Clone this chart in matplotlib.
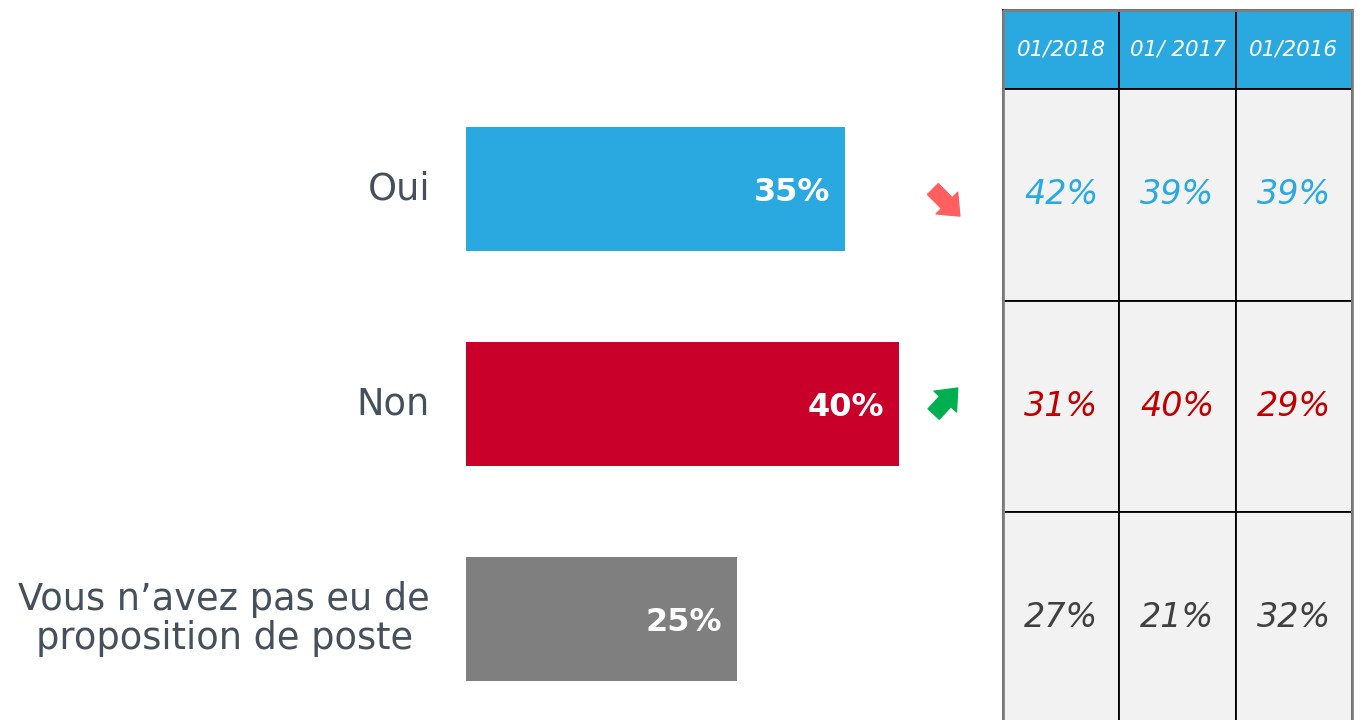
import matplotlib.pyplot as plt
from matplotlib.patches import Rectangle

# data
categories = ["Oui", "Non", "Vous n\u2019avez pas eu de\nproposition de poste"]
values = [35, 40, 25]
bar_colors = ["#29a9e0", "#c8002a", "#7f7f7f"]
trends = ["down", "up", None]
years = ["01/2018", "01/ 2017", "01/2016"]
history = [[42, 39, 39],
           [31, 40, 29],
           [27, 21, 32]]
text_colors = ["#29a9e0", "#c00000", "#404040"]

W, H = 1361, 720
fig = plt.figure(figsize=(W / 100, H / 100), dpi=100)

# --- bars -------------------------------------------------------------
ax = fig.add_axes([466 / W, 0, (1003 - 466) / W, 1])
ax.barh(range(len(values)), values, height=0.577, color=bar_colors)
ax.set_xlim(0, (1003 - 466) / 10.83)
ax.set_ylim(2.470, -0.879)
ax.axis("off")

for i, (cat, v) in enumerate(zip(categories, values)):
    ax.text(v - 1.4, i, f"{v}%", ha="right", va="center_baseline", color="white",
            fontsize=23, fontweight="bold")
    ax.annotate(cat, xy=(0, i), xytext=(-36, 0), textcoords="offset pixels",
                ha="right", va="center", fontsize=26.5, color="#44505c",
                multialignment="center", linespacing=1.1)

# trend arrows
for i, t in enumerate(trends):
    if t is None:
        continue
    if t == "down":
        head, off, col = (45.6, i + 0.126), (-27, 27), "#ff5f5f"
    else:
        head, off, col = (45.4, i - 0.074), (-24, -26), "#00b050"
    ax.annotate("", xy=head, xytext=off, textcoords="offset pixels",
                arrowprops=dict(arrowstyle="simple,head_length=0.6,head_width=1.0,tail_width=0.5",
                                color=col, mutation_scale=22, shrinkA=0, shrinkB=0))

# --- table ------------------------------------------------------------
tx = fig.add_axes([1003 / W, 0, (1352 - 1003) / W, (H - 10) / H])
hdr = 79 / 211.5
tx.set_xlim(0, len(years))
tx.set_ylim((720 - 89) / 211.5, -hdr)
tx.axis("off")

for j, y in enumerate(years):
    tx.add_patch(Rectangle((j, -hdr), 1, hdr, facecolor="#29a9e0",
                           edgecolor="black", lw=1.3, clip_on=False))
    tx.text(j + 0.5, -hdr / 2, y, ha="center", va="center", color="white",
            fontsize=15.5, style="italic")
    for i, row in enumerate(history):
        tx.add_patch(Rectangle((j, i), 1, 1, facecolor="#f2f2f2",
                               edgecolor="black", lw=1.3, clip_on=False))
        tx.text(j + 0.5, i + 0.5, f"{row[j]}%", ha="center", va="center",
                color=text_colors[i], fontsize=24, style="italic")

# grey outer frame
tx.add_patch(Rectangle((0, -hdr), len(years), hdr + len(history), fill=False,
                       edgecolor="#7f7f7f", lw=2, clip_on=False))

fig.savefig("out.png", dpi=100)
